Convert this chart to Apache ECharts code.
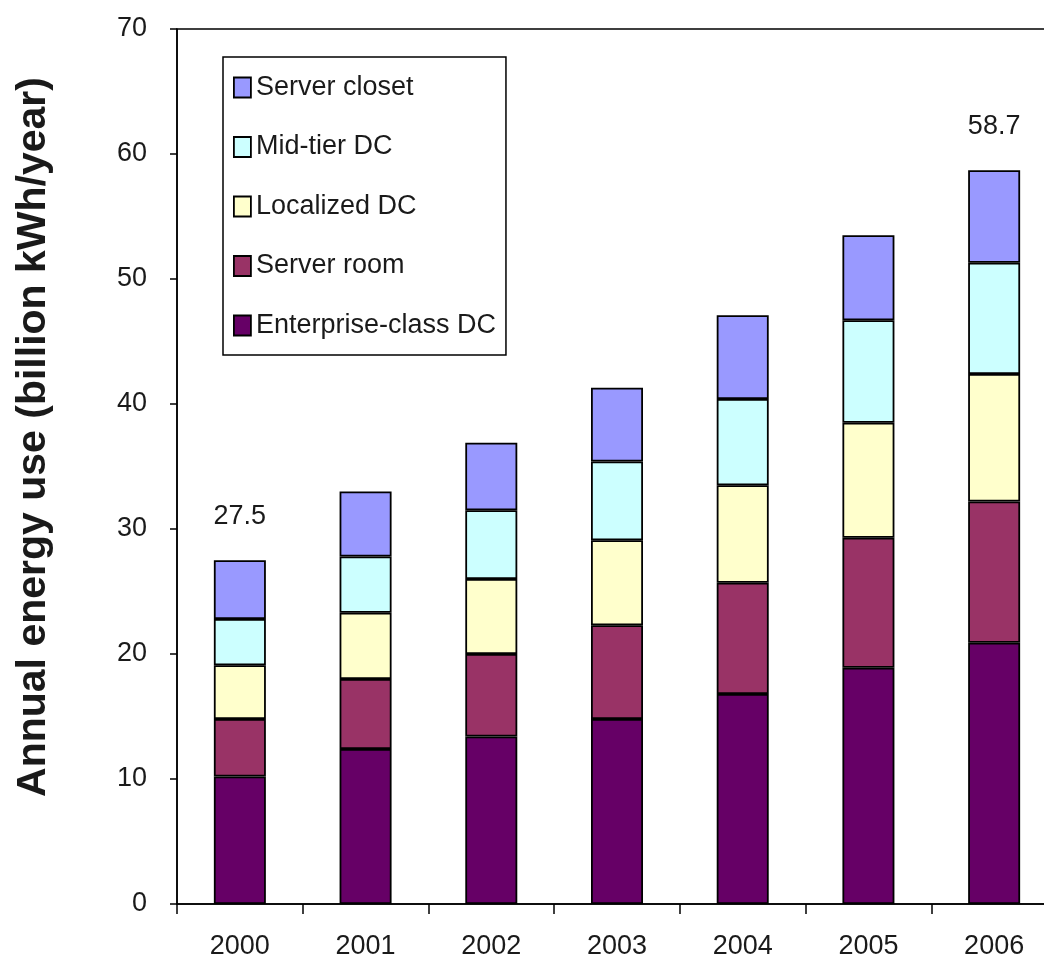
<!DOCTYPE html>
<html>
<head>
<meta charset="utf-8">
<title>Annual energy use by data center class</title>
<script src="https://cdn.jsdelivr.net/npm/echarts@6/dist/echarts.min.js"></script>
<style>
  html, body { margin: 0; padding: 0; background: #ffffff; }
  #chart { width: 1044px; height: 972px; }
</style>
</head>
<body>
<div id="chart"></div>
<script>
// Years on the category axis
const years = ['2000', '2001', '2002', '2003', '2004', '2005', '2006'];

// Annual energy use per class, billion kWh/year (stacked bottom to top)
const enterpriseClassDC = [10.2, 12.4, 13.4, 14.8, 16.8, 18.9, 20.9];
const serverRoom        = [4.6, 5.6, 6.6, 7.5, 8.9, 10.4, 11.3];
const localizedDC       = [4.3, 5.3, 6.0, 6.8, 7.8, 9.2, 10.2];
const midTierDC         = [3.7, 4.5, 5.5, 6.3, 6.9, 8.2, 8.9];
const serverCloset      = [4.7, 5.2, 5.4, 5.9, 6.7, 6.8, 7.4];

// Years whose stack total is printed above the bar
const totalLabelYears = ['2000', '2006'];

// Value axis ticks
const yTicks = [0, 10, 20, 30, 40, 50, 60, 70];

const FONT = "'Liberation Sans', Arial, sans-serif";
const TEXT = '#1a1a1a';

const stackSeries = [
  { name: 'Enterprise-class DC', data: enterpriseClassDC, color: '#660066' },
  { name: 'Server room',         data: serverRoom,        color: '#993366' },
  { name: 'Localized DC',        data: localizedDC,       color: '#FFFFCC' },
  { name: 'Mid-tier DC',         data: midTierDC,         color: '#CCFFFF' },
  { name: 'Server closet',       data: serverCloset,      color: '#9999FF' }
];

// Stack totals, summed from the segments
const totals = years.map((_, i) =>
  stackSeries.reduce((s, ser) => s + ser.data[i], 0)
);

const series = stackSeries.map((s, idx) => {
  const isTop = idx === stackSeries.length - 1;
  return {
    name: s.name,
    type: 'bar',
    stack: 'energy',
    barWidth: 52,
    itemStyle: { color: s.color, borderColor: '#000000', borderWidth: 1.8 },
    emphasis: { disabled: true },
    data: s.data.map((v, i) => {
      const item = { value: v };
      if (isTop && totalLabelYears.includes(years[i])) {
        item.label = {
          show: true,
          position: 'top',
          distance: 30,
          formatter: () => totals[i].toFixed(1),
          fontFamily: FONT,
          fontSize: 27,
          color: TEXT
        };
      }
      return item;
    })
  };
});

const chart = echarts.init(document.getElementById('chart'), null, { renderer: 'canvas' });

chart.setOption({
  animation: false,
  backgroundColor: '#ffffff',
  grid: {
    left: 177,
    top: 29,
    right: -13,
    bottom: 68,
    outerBoundsMode: 'none',
    containLabel: false,
    show: true,
    borderColor: '#000000',
    borderWidth: 1.5,
    backgroundColor: 'transparent'
  },
  legend: {
    orient: 'vertical',
    left: 223,
    top: 57,
    icon: 'rect',
    data: ['Server closet', 'Mid-tier DC', 'Localized DC', 'Server room', 'Enterprise-class DC'],
    itemWidth: 17,
    itemHeight: 20,
    itemGap: 24.5,
    padding: [13, 10, 12, 10],
    borderColor: '#000000',
    borderWidth: 1.5,
    backgroundColor: '#ffffff',
    selectedMode: false,
    itemStyle: { borderColor: '#000000', borderWidth: 1.8 },
    textStyle: { fontFamily: FONT, fontSize: 27, color: TEXT, lineHeight: 35 }
  },
  xAxis: {
    type: 'category',
    data: years,
    axisLine: { lineStyle: { color: '#000000', width: 1.5 } },
    axisTick: { show: true, length: 10, inside: false, lineStyle: { color: '#000000', width: 1.5 } },
    axisLabel: { margin: 29, fontFamily: FONT, fontSize: 27, color: TEXT },
    splitLine: { show: false }
  },
  yAxis: {
    type: 'value',
    min: yTicks[0],
    max: yTicks[yTicks.length - 1],
    interval: yTicks[1] - yTicks[0],
    axisLine: { show: true, lineStyle: { color: '#000000', width: 1.5 } },
    axisTick: { show: true, length: 7, inside: false, lineStyle: { color: '#000000', width: 1.5 } },
    axisLabel: { margin: 30, fontFamily: FONT, fontSize: 27, color: TEXT },
    splitLine: { show: false }
  },
  graphic: [
    {
      type: 'text',
      x: 34,
      y: 437,
      rotation: Math.PI / 2,
      style: {
        text: 'Annual energy use (billion kWh/year)',
        fontFamily: FONT,
        fontWeight: 'bold',
        fontSize: 41,
        fill: TEXT,
        textAlign: 'center',
        textVerticalAlign: 'middle'
      }
    }
  ],
  series: series
});
</script>
</body>
</html>
